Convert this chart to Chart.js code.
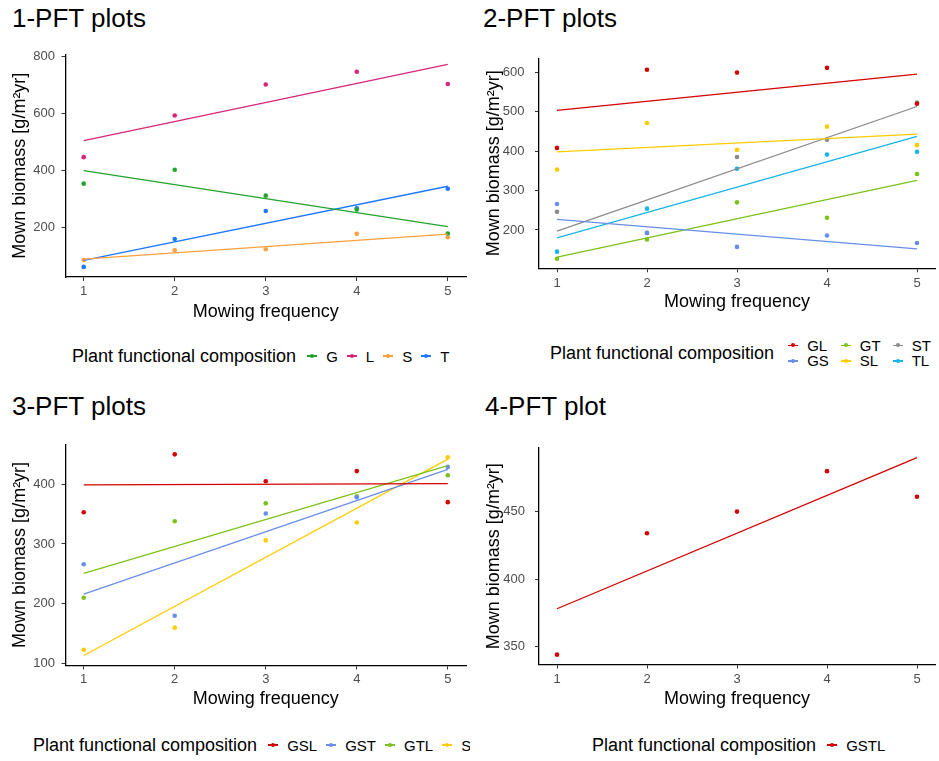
<!DOCTYPE html>
<html><head><meta charset="utf-8">
<script src="https://cdn.jsdelivr.net/npm/chart.js@4.4.1/dist/chart.umd.min.js"></script>
<style>
body{margin:0;background:#fff;width:939px;height:761px;overflow:hidden;position:relative;font-family:"Liberation Sans",Arial,sans-serif;}
.ttl{position:absolute;font-size:26px;line-height:26px;color:#000;white-space:nowrap;}
.cv{position:absolute;}
.clip{position:absolute;overflow:hidden;height:30px;}
.leg{position:absolute;display:flex;align-items:center;white-space:nowrap;font-size:15px;color:#000;}
.leg .lt{font-size:18px;margin-right:2px;}
.it{display:flex;align-items:center;}
.sym{position:relative;display:inline-block;width:10px;height:10px;margin-left:9px;}
.sym .ln{position:absolute;left:0;top:4.4px;width:10px;height:1.3px;}
.sym .dt{position:absolute;left:3px;top:3px;width:4px;height:4px;border-radius:50%;}
.lab{margin-left:9px;}
.col{display:flex;flex-direction:column;margin-left:3px;}
.col .it{height:15.7px;}
</style></head>
<body>
<div class="ttl" style="left:12px;top:5px">1-PFT plots</div>
<div class="ttl" style="left:483px;top:5px">2-PFT plots</div>
<div class="ttl" style="left:12px;top:393px">3-PFT plots</div>
<div class="ttl" style="left:485px;top:393px">4-PFT plot</div>

<canvas id="c1" class="cv" width="470" height="290" style="left:0;top:40px"></canvas>
<canvas id="c2" class="cv" width="469" height="290" style="left:470px;top:40px"></canvas>
<canvas id="c3" class="cv" width="470" height="290" style="left:0;top:430px"></canvas>
<canvas id="c4" class="cv" width="469" height="290" style="left:470px;top:430px"></canvas>

<div id="leg1" class="leg" style="left:72px;top:346px;height:20px"></div>
<div id="leg2" class="leg" style="left:550px;top:337px;height:32px"></div>
<div class="clip" style="left:0;top:730px;width:470px"><div id="leg3" class="leg" style="left:33px;top:5px;height:20px"></div></div>
<div id="leg4" class="leg" style="left:592px;top:735px;height:20px"></div>

<script>
// ---------- data ----------
const freq = [1, 2, 3, 4, 5];
const xTicks = [1, 2, 3, 4, 5];

// 1-PFT plots
const pft1Names = ['G', 'L', 'S', 'T'];
const pft1_G = [354, 403, 312, 263, 179];
const pft1_L = [447, 593, 702, 747, 704];
const pft1_S = [86, 120, 124, 178, 166];
const pft1_T = [62, 160, 258, 268, 336];
const pft1_G_fit = [400, 203];
const pft1_L_fit = [505, 773];
const pft1_S_fit = [89, 177];
const pft1_T_fit = [85, 345];
const pft1Ticks = [200, 400, 600, 800];

// 2-PFT plots
const pft2Names = ['GL', 'GS', 'GT', 'SL', 'ST', 'TL'];
const pft2_GL = [408, 606, 599, 611, 520];
const pft2_GS = [266, 192, 157, 186, 167];
const pft2_GT = [127, 176, 270, 231, 342];
const pft2_SL = [353, 471, 403, 462, 415];
const pft2_ST = [246, 193, 385, 429, 523];
const pft2_TL = [145, 254, 355, 391, 398];
const pft2_GL_fit = [503, 595];
const pft2_GS_fit = [227, 152];
const pft2_GT_fit = [131, 326];
const pft2_SL_fit = [398, 443];
const pft2_ST_fit = [197, 513];
const pft2_TL_fit = [180, 437];
const pft2Ticks = [200, 300, 400, 500, 600];

// 3-PFT plots
const pft3Names = ['GSL', 'GST', 'GTL', 'STL'];
const pft3_GSL = [353, 450, 405, 422, 370];
const pft3_GST = [266, 180, 351, 378, 429];
const pft3_GTL = [210, 338, 368, 380, 415];
const pft3_STL = [123, 160, 306, 336, 445];
const pft3_GSL_fit = [399, 401];
const pft3_GST_fit = [216, 425];
const pft3_GTL_fit = [251, 431];
const pft3_STL_fit = [113.5, 442];
const pft3Ticks = [100, 200, 300, 400];

// 4-PFT plot
const pft4Names = ['GSTL'];
const pft4_GSTL = [344, 434, 450, 480, 461];
const pft4_GSTL_fit = [378, 490];
const pft4Ticks = [350, 400, 450];

// ---------- styles ----------
const FONT = '"Liberation Sans", Arial, sans-serif';
const colors = {
  G: '#22A32C', L: '#D8247B', S: '#FFA040', T: '#1E77FF',
  GL: '#D40000', GS: '#6A8EE8', GT: '#7CC21A', SL: '#FFCC00', ST: '#8A8A8A', TL: '#17B5E8',
  GSL: '#D40000', GST: '#6A8EE8', GTL: '#7CC21A', STL: '#FFCC00', GSTL: '#D40000'
};

function series(names, vals, fits) {
  return names.map((n, i) => ({ name: n, values: vals[i], fit: fits[i], color: colors[n] }));
}

function makeChart(id, list, yMin, yMax, yTicks, L) {
  const datasets = [];
  list.forEach(s => {
    datasets.push({
      label: s.name + ' fit', showLine: true, pointRadius: 0, borderWidth: 1.3,
      borderColor: s.color, backgroundColor: s.color,
      data: [{ x: freq[0], y: s.fit[0] }, { x: freq[freq.length - 1], y: s.fit[1] }]
    });
  });
  list.forEach(s => {
    datasets.push({
      label: s.name, showLine: false, pointRadius: 2.3, borderWidth: 0,
      backgroundColor: s.color, borderColor: s.color,
      data: freq.map((f, i) => ({ x: f, y: s.values[i] }))
    });
  });
  const axisCommon = {
    grid: { drawOnChartArea: false, drawTicks: true, tickLength: 4, color: '#333', lineWidth: 1 },
    border: { display: true, color: '#000', width: 1.3 }
  };
  new Chart(document.getElementById(id), {
    type: 'scatter',
    data: { datasets },
    options: {
      responsive: false, animation: false, devicePixelRatio: 1,
      layout: { padding: { top: L.pt, right: L.pr, left: 0, bottom: 0 } },
      plugins: { legend: { display: false }, tooltip: { enabled: false } },
      scales: {
        x: Object.assign({}, axisCommon, {
          type: 'linear', min: 0.8, max: 5.2,
          afterBuildTicks: s => { s.ticks = xTicks.map(v => ({ value: v })); },
          afterFit: s => { s.height = L.xH; },
          ticks: { padding: L.xPad, color: '#4d4d4d', font: { size: 13, family: FONT } },
          title: { display: true, text: 'Mowing frequency', color: '#000', font: { size: 18, family: FONT }, padding: { top: 0, bottom: L.xtPb } }
        }),
        y: Object.assign({}, axisCommon, {
          type: 'linear', min: yMin, max: yMax,
          afterBuildTicks: s => { s.ticks = yTicks.map(v => ({ value: v })); },
          afterFit: s => { s.width = L.yW; },
          ticks: { padding: L.yPad, color: '#4d4d4d', font: { size: 13, family: FONT } },
          title: { display: true, text: 'Mown biomass [g/m²yr]', color: '#000', font: { size: 18, family: FONT }, padding: { top: L.ytPt, bottom: 0 } }
        })
      }
    }
  });
}

function symHTML(c) {
  return '<span class="sym"><span class="ln" style="background:' + c + '"></span><span class="dt" style="background:' + c + '"></span></span>';
}
function flatLegend(id, names) {
  let h = '<span class="lt">Plant functional composition</span>';
  names.forEach(n => { h += '<span class="it">' + symHTML(colors[n]) + '<span class="lab">' + n + '</span></span>'; });
  document.getElementById(id).innerHTML = h;
}
function gridLegend(id, names, rows) {
  let h = '<span class="lt">Plant functional composition</span>';
  for (let c = 0; c < names.length; c += rows) {
    h += '<div class="col">';
    names.slice(c, c + rows).forEach(n => { h += '<span class="it">' + symHTML(colors[n]) + '<span class="lab">' + n + '</span></span>'; });
    h += '</div>';
  }
  document.getElementById(id).innerHTML = h;
}

makeChart('c1',
  series(pft1Names, [pft1_G, pft1_L, pft1_S, pft1_T], [pft1_G_fit, pft1_L_fit, pft1_S_fit, pft1_T_fit]),
  26.5, 808, pft1Ticks,
  { pt: 9.3, pr: 3.5, xH: 53, yW: 65.5, xPad: 3, xtPb: 7.5, yPad: 6.5, ytPt: 9.7 });

makeChart('c2',
  series(pft2Names, [pft2_GL, pft2_GS, pft2_GT, pft2_SL, pft2_ST, pft2_TL],
    [pft2_GL_fit, pft2_GS_fit, pft2_GT_fit, pft2_SL_fit, pft2_ST_fit, pft2_TL_fit]),
  102.8, 635.2, pft2Ticks,
  { pt: 9.3, pr: 0.5, xH: 61.7, yW: 69, xPad: 3, xtPb: 17, yPad: 10.5, ytPt: 13.2 });

makeChart('c3',
  series(pft3Names, [pft3_GSL, pft3_GST, pft3_GTL, pft3_STL], [pft3_GSL_fit, pft3_GST_fit, pft3_GTL_fit, pft3_STL_fit]),
  96.7, 466.8, pft3Ticks,
  { pt: 6.7, pr: 3.5, xH: 54.5, yW: 65.5, xPad: 2, xtPb: 9.9, yPad: 6.5, ytPt: 9.7 });

makeChart('c4',
  series(pft4Names, [pft4_GSTL], [pft4_GSTL_fit]),
  336.7, 497.3, pft4Ticks,
  { pt: 6, pr: 0.5, xH: 55.5, yW: 69, xPad: 3, xtPb: 9.9, yPad: 10, ytPt: 13.2 });

flatLegend('leg1', pft1Names);
gridLegend('leg2', pft2Names, 2);
flatLegend('leg3', pft3Names);
flatLegend('leg4', pft4Names);
</script>
</body></html>
